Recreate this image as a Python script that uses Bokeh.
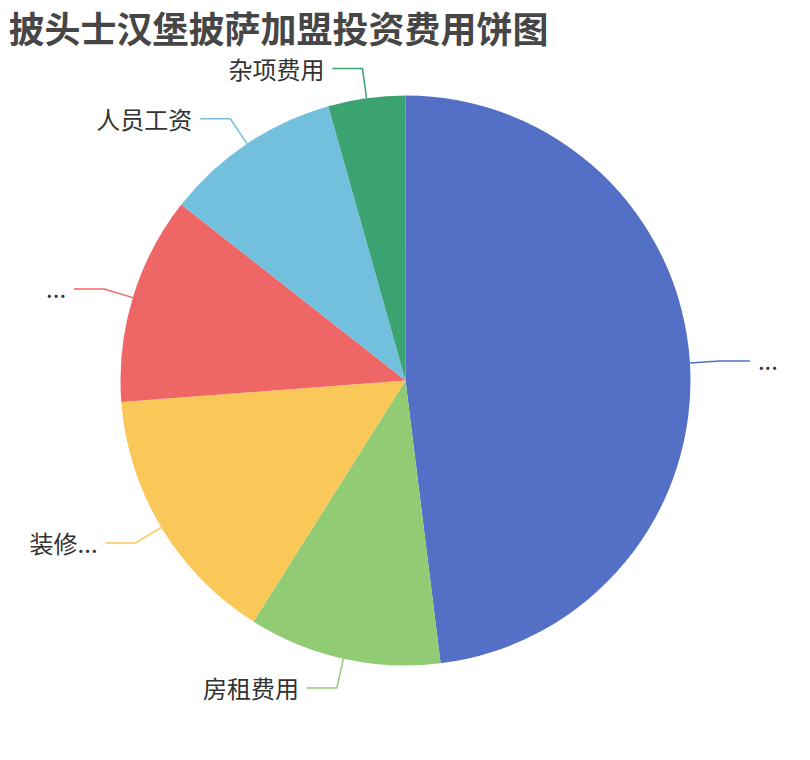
import numpy as np
from bokeh.plotting import figure
from bokeh.models import ColumnDataSource, Range1d
from bokeh.core.properties import value
from bokeh.embed import file_html
from bokeh.resources import INLINE

# data
title_text = "披头士汉堡披萨加盟投资费用饼图"
labels = ["...", "房租费用", "装修...", "...", "人员工资", "杂项费用"]
values = [11, 2.5, 3.4, 2.7, 2.3, 1]
colors = ["#5470c6", "#91cc75", "#fac858", "#ee6666", "#73c0de", "#3ba272"]

# layout (picture pixels, y measured from the top)
W, H = 794, 744
cx, cy, r = 405, 380, 285
len1, len2 = 30, 30
font = "Noto Sans CJK SC"

vals = np.array(values, dtype=float)
frac = vals / vals.sum()
end = np.cumsum(frac) * 2 * np.pi
start = end - frac * 2 * np.pi
mid = (start + end) / 2

# clockwise from 12 o'clock
src = ColumnDataSource(dict(
    start=np.pi / 2 - start,
    end=np.pi / 2 - end,
    color=colors,
))

p = figure(width=W, height=H, output_backend="svg", toolbar_location=None,
           x_range=Range1d(0, W), y_range=Range1d(760 - H, 760),
           min_border=0)
p.axis.visible = False
p.grid.grid_line_color = None
p.outline_line_color = None
p.background_fill_color = "white"

p.wedge(x=cx, y=760 - cy, radius=r, start_angle="start", end_angle="end",
        direction="clock", fill_color="color", line_color=None, source=src)

# label lines and texts
xs, ys, tx, ty, al = [], [], [], [], []
for m in mid:
    s, c = np.sin(m), np.cos(m)
    x0, y0 = cx + r * s, (760 - cy) + r * c
    x1, y1 = cx + (r + len1) * s, (760 - cy) + (r + len1) * c
    side = 1 if s >= 0 else -1
    x2 = x1 + side * len2
    xs.append([x0, x1, x2])
    ys.append([y0, y1, y1])
    tx.append(x2 + side * 8)
    ty.append(y1)
    al.append("left" if side > 0 else "right")

p.multi_line(xs=xs, ys=ys, line_color=colors, line_width=1.5)
p.text(x=tx, y=ty, text=labels, text_align=al, text_baseline="middle",
       text_font=value(font), text_font_size="24px", text_color="#333333")

p.text(x=[8], y=[760 - 26], text=[title_text], text_align="left",
       text_baseline="middle", text_font=value(font), text_font_size="36px",
       text_font_style="bold", text_color="#464646")

open("out.html", "w").write(file_html(p, INLINE))
